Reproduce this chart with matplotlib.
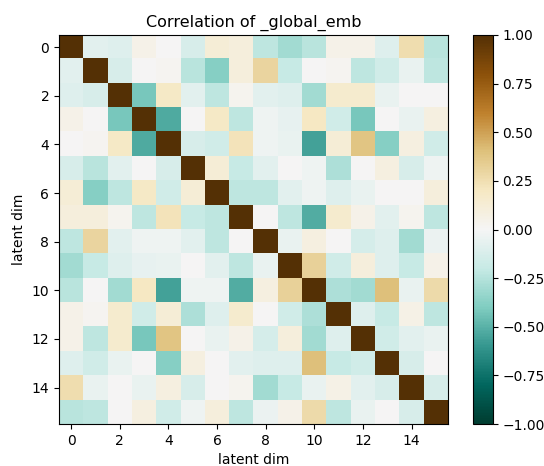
import numpy as np
import matplotlib
matplotlib.use("Agg")
import matplotlib.pyplot as plt

# correlation values (symmetric, diagonal = 1)
corr_rows = [
    [1.00, -0.08, -0.10, 0.05, 0.00, -0.13, 0.12, 0.10, -0.22, -0.30, -0.24, 0.05, 0.05, -0.10, 0.25, -0.24],
    [-0.08, 1.00, -0.13, 0.00, 0.02, -0.24, -0.38, 0.10, 0.30, -0.20, 0.00, 0.02, -0.22, -0.16, -0.05, -0.22],
    [-0.10, -0.13, 1.00, -0.42, 0.18, -0.08, -0.22, 0.03, -0.08, -0.10, -0.30, 0.15, 0.15, -0.05, 0.00, 0.00],
    [0.05, 0.00, -0.42, 1.00, -0.53, 0.00, 0.18, -0.22, -0.03, -0.06, 0.20, -0.16, -0.42, 0.00, -0.05, 0.08],
    [0.00, 0.02, 0.18, -0.53, 1.00, -0.13, -0.16, 0.22, -0.03, -0.05, -0.56, 0.12, 0.38, -0.38, 0.08, -0.16],
    [-0.13, -0.24, -0.08, 0.00, -0.13, 1.00, 0.12, -0.20, -0.08, 0.00, -0.03, -0.27, 0.00, 0.08, -0.13, -0.03],
    [0.12, -0.38, -0.22, 0.18, -0.16, 0.12, 1.00, -0.22, -0.22, -0.08, -0.03, -0.10, -0.05, 0.00, 0.00, 0.10],
    [0.10, 0.10, 0.03, -0.22, 0.22, -0.20, -0.22, 1.00, 0.00, -0.22, -0.52, 0.15, 0.05, -0.08, 0.03, -0.22],
    [-0.22, 0.30, -0.08, -0.03, -0.03, -0.08, -0.22, 0.00, 1.00, -0.05, 0.08, 0.00, -0.14, -0.10, -0.30, -0.04],
    [-0.30, -0.20, -0.10, -0.06, -0.05, 0.00, -0.08, -0.22, -0.05, 1.00, 0.32, -0.16, 0.10, -0.10, -0.20, 0.05],
    [-0.24, 0.00, -0.30, 0.20, -0.56, -0.03, -0.03, -0.52, 0.08, 0.32, 1.00, -0.27, -0.30, 0.40, -0.05, 0.27],
    [0.05, 0.02, 0.15, -0.16, 0.12, -0.27, -0.10, 0.15, 0.00, -0.16, -0.27, 1.00, -0.10, -0.20, 0.06, -0.22],
    [0.05, -0.22, 0.15, -0.42, 0.38, 0.00, -0.05, 0.05, -0.14, 0.10, -0.30, -0.10, 1.00, -0.16, -0.08, -0.05],
    [-0.10, -0.16, -0.05, 0.00, -0.38, 0.08, 0.00, -0.08, -0.10, -0.10, 0.40, -0.20, -0.16, 1.00, -0.13, 0.00],
    [0.25, -0.05, 0.00, -0.05, 0.08, -0.13, 0.00, 0.03, -0.30, -0.20, -0.05, 0.06, -0.08, -0.13, 1.00, -0.13],
    [-0.24, -0.22, 0.00, 0.08, -0.16, -0.03, 0.10, -0.22, -0.04, 0.05, 0.27, -0.22, -0.05, 0.00, -0.13, 1.00],
]
title = "Correlation of _global_emb"
axis_label = "latent dim"
tick_positions = [0, 2, 4, 6, 8, 10, 12, 14]
cbar_ticks = [-1.0, -0.75, -0.5, -0.25, 0.0, 0.25, 0.5, 0.75, 1.0]

corr = np.array(corr_rows)

fig = plt.figure(figsize=(5.44, 4.66), dpi=100)
ax = fig.add_axes([0.1085, 0.09, 0.715, 0.835])
cax = fig.add_axes([0.869, 0.09, 0.037, 0.835])

im = ax.imshow(corr, cmap="BrBG_r", vmin=-1, vmax=1, aspect="auto",
               interpolation="nearest")
ax.set_title(title, fontsize=11.5)
ax.set_xlabel(axis_label)
ax.set_ylabel(axis_label)
ax.set_xticks(tick_positions)
ax.set_yticks(tick_positions)

cb = fig.colorbar(im, cax=cax, ticks=cbar_ticks)
cb.ax.yaxis.set_major_formatter(
    matplotlib.ticker.FuncFormatter(lambda v, p: f"{v:.2f}".replace("-", "\u2212")))

fig.savefig("out.png", dpi=100)
